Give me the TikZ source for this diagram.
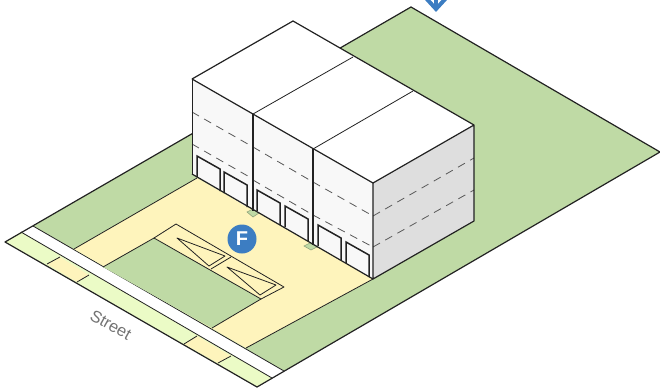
\documentclass[tikz,border=0pt]{standalone}
\usepackage{fontspec}
\setmainfont{Liberation Sans}
\usepackage{tikz}
\definecolor{lawn}{HTML}{BFDAA5}
\definecolor{paving}{HTML}{FEF4BC}
\definecolor{verge}{HTML}{EBFBC6}
\definecolor{wallfront}{HTML}{F8F8F8}
\definecolor{wallside}{HTML}{DEDEDE}
\definecolor{badgeblue}{HTML}{3C7DC2}
\definecolor{linedark}{HTML}{222222}

\begin{document}
\begin{tikzpicture}[
  x=1pt, y=-1pt,
  outer/.style={draw=linedark, line width=1.2pt, line join=round},
  thin line/.style={draw=linedark, line width=0.8pt, line join=round},
  level line/.style={draw=black!65, line width=0.8pt, dash pattern=on 8pt off 6pt},
  door/.style={draw=linedark, line width=1.5pt, fill=wallfront},
  planter/.style={draw=lawn!75!black, fill=lawn, line width=0.6pt},
  badge/.style={circle, fill=badgeblue, text=white, inner sep=0pt, minimum size=29pt,
                font=\fontsize{20}{20}\selectfont\bfseries},
  streetlabel/.style={text=black!55, inner sep=0pt, font=\fontsize{16.5}{16.5}\selectfont}
]
\useasboundingbox (0,0) rectangle (660,389);
\clip (0,0) rectangle (660,389);

% north arrow, cut by the page
\draw[badgeblue, line width=4pt] (425,-3) -- (436,9) -- (447,-3);
\draw[badgeblue, line width=4pt] (436,-3) -- (436,9);

% lot
\fill[lawn] (33,226) -- (411,7) -- (660,152) -- (284,371) -- cycle;

% sidewalk and street
\fill[white] (21,232) -- (33,226) -- (284,371) -- (272,378) -- cycle;
\fill[verge] (5,242) -- (21,232) -- (272,378) -- (257,387) -- cycle;
\fill[paving] (47,264) -- (60,257) -- (89,275) -- (77,282) -- cycle;
\fill[paving] (184,344) -- (197,336) -- (231,356) -- (218,363) -- cycle;
\foreach \a/\b/\c/\d in {47/264/60/257, 77/282/89/275, 184/344/197/336, 218/363/231/356}
  \draw[thin line] (\a,\b) -- (\c,\d);
\draw[thin line] (21,232) -- (272,378);
\draw[thin line] (33,226) -- (284,371);
\draw[outer] (5,242) -- (411,7) -- (660,152) -- (257,387) -- cycle;

% driveway and planting
\fill[paving] (74,249) -- (197,178) -- (373,279) -- (246,348) -- cycle;
\draw[thin line] (74,249) -- (197,178);
\draw[thin line] (373,279) -- (246,348);
\fill[lawn] (103,267) -- (154,238) -- (261,299) -- (212,328) -- cycle;
\draw[thin line] (103,267) -- (154,238) -- (261,299) -- (212,328);
\draw[thin line] (154,238) -- (176,224) -- (284,287) -- (261,299);
\draw[thin line] (231,257) -- (211,269);
\draw[thin line] (177,238) -- (225,256) -- (209,266) -- cycle;
\draw[thin line] (227,267) -- (276,285) -- (260,295) -- cycle;

% small planters by the doors
\draw[planter] (247,212) -- (253,209) -- (259,213) -- (253,217) -- cycle;
\draw[planter] (304,246) -- (310,243) -- (317,247) -- (311,250) -- cycle;

% building
\fill[wallfront] (192,79) -- (373,183) -- (373,279) -- (192,174) -- cycle;
\fill[wallside] (373,183) -- (474,125) -- (474,221) -- (373,279) -- cycle;
\fill[white] (293,21) -- (474,125) -- (373,183) -- (192,79) -- cycle;

\foreach \a/\b/\c/\d in {192/112/253/147, 192/144/253/179, 253/147/313/182, 253/180/313/215,
                         313/182/373/216, 313/215/373/247, 373/216/474/158, 373/247/474/190}
  \draw[level line] (\a,\b) -- (\c,\d);

\foreach \x/\y in {197/156, 224/172, 257/190, 285/206, 318/225, 346/242}
  \draw[door] (\x,\y+21) -- (\x,\y) -- (\x+23,\y+13) -- (\x+23,\y+35);

\draw[outer] (192,79) -- (293,21) -- (474,125) -- (474,221) -- (373,279) -- (373,183) -- (474,125);
\draw[outer] (192,79) -- (373,183);
\draw[thin line] (192,79) -- (192,174);
\draw[outer] (192,174) -- (373,279);
\draw[thin line] (253,114) -- (353,57);
\draw[thin line] (313,149) -- (413,91);
\draw[outer] (253,114) -- (253,211);
\draw[outer] (313,149) -- (313,245);

% labels
\node[badge] (fbadge) at (242,239) {F};
\node[streetlabel, rotate=-29] (street) at (111,325) {Street};
\end{tikzpicture}
\end{document}
